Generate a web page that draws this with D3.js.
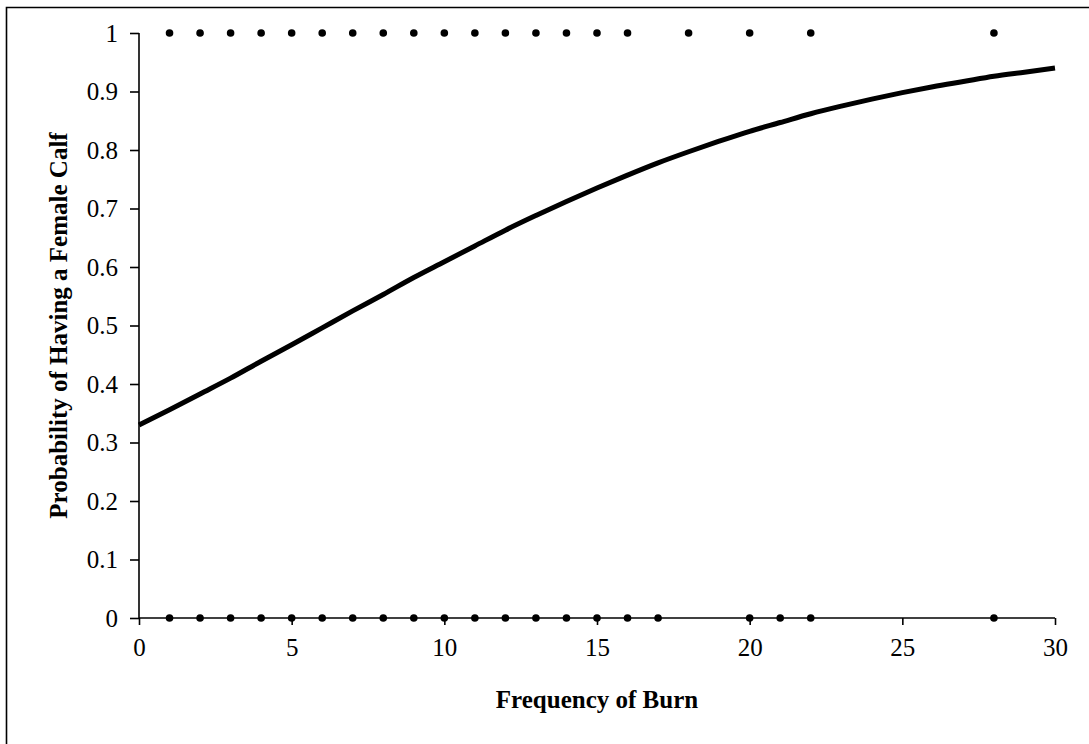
<!DOCTYPE html>
<html>
<head>
<meta charset="utf-8">
<script src="https://cdn.jsdelivr.net/npm/d3@7"></script>
<style>
  html, body { margin: 0; padding: 0; background: #fff; overflow: hidden; }
  svg { display: block; }
  text { font-family: "Liberation Serif", "Times New Roman", serif; fill: #000; }
  .tick text { font-size: 25px; }
  .axis-label { font-size: 25px; font-weight: bold; }
</style>
</head>
<body>
<svg width="1089" height="744"></svg>
<script>
  // observed outcomes: burn frequencies with a female calf (1) and without (0)
  const femaleX = [1, 2, 3, 4, 5, 6, 7, 8, 9, 10, 11, 12, 13, 14, 15, 16, 18, 20, 22, 28];
  const maleX = [1, 2, 3, 4, 5, 6, 7, 8, 9, 10, 11, 12, 13, 14, 15, 16, 17, 20, 21, 22, 28];

  // fitted probability curve
  const curveX = [0, 1, 2, 3, 4, 5, 6, 7, 8, 9, 10, 11, 12, 13, 14, 15,
                  16, 17, 18, 19, 20, 21, 22, 23, 24, 25, 26, 27, 28, 29, 30];
  const curveY = [0.33, 0.356, 0.383, 0.41, 0.439, 0.467, 0.496, 0.525, 0.553, 0.582, 0.609,
                  0.636, 0.663, 0.688, 0.712, 0.735, 0.757, 0.778, 0.797, 0.815, 0.832,
                  0.847, 0.862, 0.875, 0.887, 0.898, 0.908, 0.917, 0.926, 0.933, 0.94];

  const xTicks = [0, 5, 10, 15, 20, 25, 30];
  const yTicks = [0, 0.1, 0.2, 0.3, 0.4, 0.5, 0.6, 0.7, 0.8, 0.9, 1];

  const svg = d3.select('svg');
  const width = +svg.attr('width');
  const height = +svg.attr('height');

  const margin = {top: 33, right: 34, bottom: 126, left: 139};
  const innerWidth = width - margin.left - margin.right;
  const innerHeight = height - margin.top - margin.bottom;

  // frame: only the top and left edges show inside the page
  svg.append('path')
    .attr('d', `M6.5,${height}V7.5H${width}`)
    .attr('fill', 'none')
    .attr('stroke', '#000')
    .attr('stroke-width', 1.6);

  const xScale = d3.scaleLinear().domain([0, 30]).range([0, innerWidth]);
  const yScale = d3.scaleLinear().domain([0, 1]).range([innerHeight, 0]);

  const g = svg.append('g')
    .attr('transform', `translate(${margin.left}, ${margin.top})`);

  const yAxisG = g.append('g')
    .call(d3.axisLeft(yScale).tickValues(yTicks).tickFormat(d3.format('~g'))
      .tickSize(9).tickPadding(12));

  const xAxisG = g.append('g')
    .attr('transform', `translate(0, ${innerHeight})`)
    .call(d3.axisBottom(xScale).tickValues(xTicks).tickSize(7).tickPadding(13));

  [xAxisG, yAxisG].forEach(a => {
    a.selectAll('.domain').attr('stroke-width', 1.6);
    a.selectAll('.tick line').attr('stroke-width', 1.6);
  });
  xAxisG.selectAll('.domain').attr('d', `M0,0H${innerWidth}`);
  yAxisG.selectAll('.domain').attr('d', `M0,${innerHeight}V0`);

  g.append('text')
    .attr('class', 'axis-label')
    .attr('x', innerWidth / 2)
    .attr('y', innerHeight + 90)
    .attr('text-anchor', 'middle')
    .text('Frequency of Burn');

  g.append('text')
    .attr('class', 'axis-label')
    .attr('transform', 'rotate(-90)')
    .attr('x', -innerHeight / 2)
    .attr('y', -72)
    .attr('text-anchor', 'middle')
    .text('Probability of Having a Female Calf');

  const line = d3.line()
    .x((d, i) => xScale(curveX[i]))
    .y(d => yScale(d))
    .curve(d3.curveMonotoneX);

  g.append('path')
    .datum(curveY)
    .attr('fill', 'none')
    .attr('stroke', '#000')
    .attr('stroke-width', 5)
    .attr('d', line);

  g.selectAll('circle.female').data(femaleX)
    .enter().append('circle')
      .attr('class', 'female')
      .attr('cx', d => xScale(d))
      .attr('cy', yScale(1))
      .attr('r', 3.8);

  g.selectAll('circle.male').data(maleX)
    .enter().append('circle')
      .attr('class', 'male')
      .attr('cx', d => xScale(d))
      .attr('cy', yScale(0))
      .attr('r', 3.8);
</script>
</body>
</html>
